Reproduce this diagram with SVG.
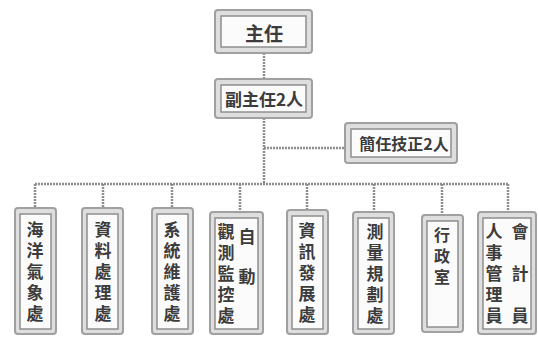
<svg xmlns="http://www.w3.org/2000/svg" width="538" height="337" viewBox="0 0 538 337">
<style>
.o{fill:#dedede;stroke:#a0a0a0;stroke-width:2}
.i{fill:#fbfbfb;stroke:#8f8f8f;stroke-width:1.5}
.t{font-family:"Noto Sans CJK TC","Noto Sans CJK SC",sans-serif;fill:#3c3c3c;text-anchor:middle;font-weight:bold}
.v{font-family:"Noto Sans CJK TC","Noto Sans CJK SC",sans-serif;fill:#3c3c3c;font-weight:bold;font-size:17px;writing-mode:vertical-rl;text-anchor:start;letter-spacing:4px}
.c{stroke:#8e8e8e;stroke-width:2.5;fill:none;stroke-dasharray:2 1}
</style>
<rect width="538" height="337" fill="#fff"/>
<g id="connectors">
<path class="c" d="M264 53V80M264 118V184M264 148H345M35 184H508M35 184V208M103 184V208M172 184V208M240 184V212M307 184V210M374 184V212M442 184V215M508 184V212"/>
</g>
<g id="director">
<rect class="o" x="215" y="10" width="97" height="43" rx="3"/>
<rect class="i" x="221" y="16" width="85" height="31"/>
<text class="t" x="264" y="41" font-size="19">主任</text>
</g>
<g id="deputy">
<rect class="o" x="215" y="79" width="97" height="39" rx="3"/>
<rect class="i" x="221" y="85" width="85" height="27"/>
<text class="t" x="264" y="106" font-size="17">副主任2人</text>
</g>
<g id="senior">
<rect class="o" x="345" y="123" width="112" height="40" rx="3"/>
<rect class="i" x="351" y="129" width="100" height="28"/>
<text class="t" x="404" y="150" font-size="16">簡任技正2人</text>
</g>
<g id="d1">
<rect class="o" x="15" y="208" width="41" height="126" rx="3"/>
<rect class="i" x="20" y="214" width="31" height="115"/>
<text class="v" x="35" y="221">海洋氣象處</text>
</g>
<g id="d2">
<rect class="o" x="82" y="208" width="41" height="126" rx="3"/>
<rect class="i" x="87" y="214" width="31" height="115"/>
<text class="v" x="103" y="221">資料處理處</text>
</g>
<g id="d3">
<rect class="o" x="152" y="208" width="41" height="126" rx="3"/>
<rect class="i" x="157" y="214" width="31" height="115"/>
<text class="v" x="172" y="221">系統維護處</text>
</g>
<g id="d4">
<rect class="o" x="210" y="212" width="53" height="122" rx="3"/>
<rect class="i" x="215" y="218" width="43" height="111"/>
<text class="v" x="226" y="223">觀測監控處</text>
<text class="v" x="247" y="228">自</text>
<text class="v" x="247" y="268">動</text>
</g>
<g id="d5">
<rect class="o" x="287" y="210" width="41" height="124" rx="3"/>
<rect class="i" x="292" y="216" width="31" height="113"/>
<text class="v" x="307" y="222">資訊發展處</text>
</g>
<g id="d6">
<rect class="o" x="353" y="212" width="41" height="122" rx="3"/>
<rect class="i" x="358" y="218" width="31" height="111"/>
<text class="v" x="375" y="223">測量規劃處</text>
</g>
<g id="d7">
<rect class="o" x="422" y="215" width="41" height="117" rx="3"/>
<rect class="i" x="427" y="221" width="31" height="106"/>
<text class="v" x="442" y="227" style="font-size:16px;letter-spacing:5px">行政室</text>
</g>
<g id="d8">
<rect class="o" x="478" y="212" width="58" height="122" rx="3"/>
<rect class="i" x="483" y="218" width="48" height="111"/>
<text class="v" x="494" y="223">人事管理員</text>
<text class="v" x="520" y="223">會</text>
<text class="v" x="520" y="265">計</text>
<text class="v" x="520" y="307">員</text>
</g>
</svg>
